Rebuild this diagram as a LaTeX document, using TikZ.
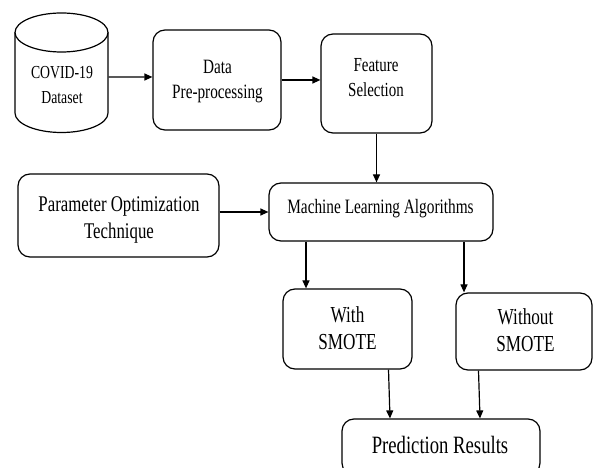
\documentclass[tikz,border=0pt]{standalone}
\usepackage{fontspec}
\setmainfont[FakeStretch=0.75]{Liberation Serif}
\usetikzlibrary{arrows.meta}
\begin{document}
\begin{tikzpicture}[x=1bp,y=-1bp,
  line width=1.2bp,
  box/.style={draw, line width=1.2bp, rounded corners=12bp, inner sep=0pt},
  txt/.style={align=center, inner sep=0pt},
  arr/.style={line width=1.2bp, -{Triangle[length=8bp,width=7bp]}}]
\useasboundingbox (0,0) rectangle (593,468);
\fill[white] (0,0) rectangle (593,468);
% cylinder
\draw (15,32.5) -- (15,113) arc[start angle=180, end angle=0, x radius=46.5, y radius=19.5] -- (108,32.5);
\draw (61.5,32.5) ellipse [x radius=46.5, y radius=19.5];
\node[inner sep=0pt, minimum width=93bp, minimum height=119bp] (cyl) at (61.5,72.5) {};
\node[txt, font=\fontsize{18.4}{25}\selectfont] (cylT) at (62,85) {COVID-19\\Dataset};
% boxes
\node[box, minimum width=128bp, minimum height=100bp] (prep) at (217,80) {};
\node[txt, font=\fontsize{20.4}{25}\selectfont] (prepT) at (217.5,81.5) {Data\\Pre-processing};
\node[box, minimum width=111bp, minimum height=99bp] (feat) at (376.5,83.5) {};
\node[txt, font=\fontsize{20}{25}\selectfont] (featT) at (376,78) {Feature\\Selection};
\node[box, minimum width=201bp, minimum height=83bp] (param) at (118.5,215.5) {};
\node[txt, font=\fontsize{22.5}{28}\selectfont] (paramT) at (119,220) {Parameter Optimization\\Technique};
\node[box, minimum width=224bp, minimum height=58bp] (ml) at (381,212) {};
\node[txt, font=\fontsize{20.5}{25}\selectfont] (mlT) at (380.5,209) {Machine Learning Algorithms};
\node[box, minimum width=129bp, minimum height=80bp] (with) at (347.5,329) {};
\node[txt, font=\fontsize{23}{27}\selectfont] (withT) at (347.5,328.5) {With\\SMOTE};
\node[box, minimum width=136bp, minimum height=77bp] (without) at (524,331.5) {};
\node[txt, font=\fontsize{23}{27}\selectfont] (withoutT) at (525.5,330) {Without\\SMOTE};
\node[box, minimum width=198bp, minimum height=56bp] (pred) at (441,447) {};
\node[txt, font=\fontsize{25}{30}\selectfont] (predT) at (440,445) {Prediction Results};
% connectors
\draw[arr] ([yshift=-4.5bp]cyl.east) -- ([yshift=3bp]prep.west);
\draw[arr] (prep.east) -- (prep.east -| feat.west);
\draw[arr] (feat.south) -- (feat.south |- ml.north);
\draw[arr] (param.east |- ml.west) -- (ml.west);
\coordinate (m1) at ([xshift=-75bp]ml.south);
\coordinate (m2) at ([xshift=83bp]ml.south);
\draw[arr] (m1) -- (m1 |- with.north);
\draw[arr] (m2) -- (m2 |- without.north);
\draw[arr] ([xshift=41bp]with.south) -- ([xshift=-51bp]pred.north);
\draw[arr] ([xshift=-45.5bp]without.south) -- ([xshift=39bp]pred.north);
\end{tikzpicture}
\end{document}
